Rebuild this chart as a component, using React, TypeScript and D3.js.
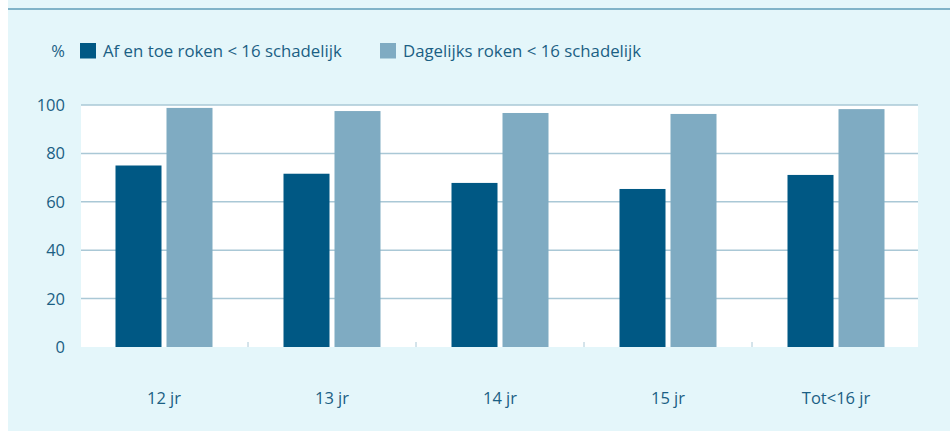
import React from "react";
import * as d3 from "d3";

const categories = ["12 jr", "13 jr", "14 jr", "15 jr", "Tot<16 jr"];
const seriesNames = ["Af en toe roken < 16 schadelijk", "Dagelijks roken < 16 schadelijk"];
const afEnToe = [75, 71.6, 67.8, 65.3, 71.1];
const dagelijks = [98.8, 97.5, 96.7, 96.3, 98.3];
const yTicks = [0, 20, 40, 60, 80, 100];

const W = 950;
const H = 431;
const colors = ["#005884", "#7fabc2"];
const textColor = "#1b5f84";
const font = "'Open Sans', sans-serif";

export default function App() {
  const plotLeft = 81;
  const plotRight = 918;
  const x = d3.scaleBand<string>().domain(categories).range([80, 920]).paddingInner(0).paddingOuter(0);
  const y = d3.scaleLinear().domain([0, 100]).range([347, 105]);
  const barW = 46;
  const gap = 5;
  const series = [afEnToe, dagelijks];

  return (
    <div style={{ position: "absolute", left: 0, top: 0 }}>
      <svg width={W} height={H} style={{ display: "block" }}>
        <rect x={0} y={0} width={W} height={H} fill="#ffffff" />
        <rect x={8} y={0} width={W - 8} height={H} fill="#e4f6fa" />
        <line x1={8} x2={W} y1={9} y2={9} stroke="#5f9db7" strokeWidth={1.5} />
        {/* plot area */}
        <rect x={plotLeft} y={y(100)} width={plotRight - plotLeft} height={y(0) - y(100)} fill="#ffffff" />
        {yTicks.filter((t) => t > 0).map((t) => (
          <line key={t} x1={plotLeft} x2={plotRight} y1={y(t)} y2={y(t)} stroke="#aac8d6" strokeWidth={1.5} />
        ))}
        {yTicks.map((t) => (
          <text key={"l" + t} x={65} y={y(t)} dy="0.36em" textAnchor="end" fontFamily={font} fontSize={16.5} fill={textColor}>
            {t}
          </text>
        ))}
        {categories.slice(1).map((c) => (
          <line key={"tk" + c} x1={x(c)!} x2={x(c)!} y1={y(0) - 5} y2={y(0)} stroke="#aac8d6" strokeWidth={1} />
        ))}
        {categories.map((c, i) => {
          const cx = x(c)! + x.bandwidth() / 2;
          const start = cx - (2 * barW + gap) / 2;
          return (
            <g key={c}>
              {series.map((s, j) => (
                <rect
                  key={j}
                  x={start + j * (barW + gap)}
                  y={y(s[i])}
                  width={barW}
                  height={y(0) - y(s[i])}
                  fill={colors[j]}
                />
              ))}
              <text x={cx} y={404} textAnchor="middle" fontFamily={font} fontSize={16.5} fill={textColor}>
                {c}
              </text>
            </g>
          );
        })}
        {/* legend */}
        <text x={65} y={51} dy="0.36em" textAnchor="end" fontFamily={font} fontSize={16.5} fill={textColor}>%</text>
        {seriesNames.map((n, j) => {
          const lx = j === 0 ? 80 : 380;
          return (
            <g key={n}>
              <rect x={lx} y={43} width={16} height={15.5} fill={colors[j]} />
              <text x={lx + 23} y={51} dy="0.36em" fontFamily={font} fontSize={16.8} fill={textColor}>
                {n}
              </text>
            </g>
          );
        })}
      </svg>
    </div>
  );
}
